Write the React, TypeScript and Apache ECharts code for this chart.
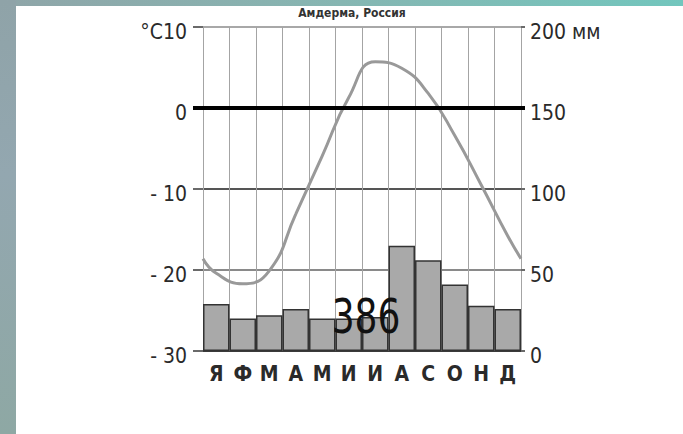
import React, { useEffect, useRef } from 'react';
import * as echarts from 'echarts';

// Month initials (Russian)
const months = ['Я', 'Ф', 'М', 'А', 'М', 'И', 'И', 'А', 'С', 'О', 'Н', 'Д'];
// Monthly precipitation, mm (right axis)
const precipitation = [29, 20, 22, 26, 20, 20, 21, 65, 56, 41, 28, 26];
// Temperature curve: positions along the month axis (0 = left edge, 12 = right edge)
const tempPositions = [0, 0.5, 1.5, 2.5, 3.5, 4.5, 5.5, 6.5, 7.5, 8.5, 9.5, 10.5, 11.5, 12];
// Temperature values, °C (left axis)
const temperature = [-18.6, -20.4, -21.7, -20.1, -13.1, -5.9, 1.3, 5.7, 4.9, 1.8, -3.4, -9.5, -15.8, -18.6];
// Axis ranges / ticks
const tempAxis = { min: -30, max: 10, step: 10 };
const precipAxis = { min: 0, max: 200, step: 50 };
const freezing = [0];
const annualTotal = '386';
const titleText = 'Амдерма, Россия';

const FONT = '"DejaVu Sans Condensed", "Liberation Sans", sans-serif';

const shifted = (t: string) => '{v|' + t + '}';

export default function App() {
  const ref = useRef<HTMLDivElement>(null);

  useEffect(() => {
    if (!ref.current) return;
    const chart = echarts.init(ref.current, null, { renderer: 'svg' });
    const labelRich = {
      v: {
        color: '#2a2a2a',
        fontSize: 21,
        fontFamily: FONT,
        padding: [10, 0, 0, 0],
      },
    };
    const option: any = {
      animation: false,
      backgroundColor: '#ffffff',
      grid: { left: 203, right: 162, top: 27, bottom: 83, containLabel: false },
      xAxis: [
        {
          type: 'category',
          data: months,
          boundaryGap: true,
          axisLine: { show: true, lineStyle: { color: '#3a3a3a', width: 2.5 } },
          axisTick: { show: false },
          axisLabel: {
            color: '#2a2a2a',
            fontSize: 21,
            fontWeight: 'bold',
            fontFamily: FONT,
            margin: 12,
          },
          splitLine: { show: true, lineStyle: { color: '#a4a4a4', width: 1 } },
        },
        { type: 'value', min: 0, max: 12, show: false },
      ],
      yAxis: [
        {
          type: 'value',
          position: 'left',
          min: tempAxis.min,
          max: tempAxis.max,
          interval: tempAxis.step,
          axisLine: { show: false },
          axisTick: { show: true, length: 10, lineStyle: { color: '#6a6a6a', width: 2 } },
          axisLabel: {
            margin: 16,
            rich: labelRich,
            formatter: (v: number) =>
              shifted(v === tempAxis.max ? '°C' + v : v < 0 ? '- ' + Math.abs(v) : String(v)),
          },
          splitLine: {
            show: true,
            lineStyle: { color: ['#3a3a3a', '#8a8a8a', '#555555', '#000000', '#a8a8a8'], width: 2 },
          },
        },
        {
          type: 'value',
          position: 'right',
          min: precipAxis.min,
          max: precipAxis.max,
          interval: precipAxis.step,
          axisLine: { show: false },
          axisTick: { show: true, length: 4, lineStyle: { color: '#6a6a6a', width: 2 } },
          axisLabel: {
            margin: 9,
            rich: labelRich,
            formatter: (v: number) => shifted(v === precipAxis.max ? v + ' мм' : String(v)),
          },
          splitLine: { show: false },
        },
      ],
      series: [
        {
          type: 'bar',
          xAxisIndex: 0,
          yAxisIndex: 1,
          data: precipitation,
          barCategoryGap: '0%',
          itemStyle: { color: '#a9a9a9', borderColor: '#333333', borderWidth: 1.5 },
          z: 2,
        },
        {
          type: 'line',
          xAxisIndex: 1,
          yAxisIndex: 0,
          data: tempPositions.map((x, i) => [x, temperature[i]]),
          smooth: 0.5,
          showSymbol: false,
          lineStyle: { color: '#999999', width: 3 },
          z: 5,
        },
        {
          type: 'custom',
          xAxisIndex: 1,
          yAxisIndex: 0,
          data: freezing.map((v) => [0, v]),
          silent: true,
          z: 10,
          renderItem: (params: any, api: any) => {
            const cs = params.coordSys;
            const y = api.coord([0, api.value(1)])[1];
            return {
              type: 'line',
              shape: { x1: cs.x - 10, y1: y, x2: cs.x + cs.width + 4, y2: y },
              style: { stroke: '#000000', lineWidth: 4 },
            };
          },
        },
      ],
      graphic: [
        {
          type: 'text',
          z: 50,
          x: 366,
          y: 316,
          scaleY: 1.2,
          style: {
            text: annualTotal,
            x: 0,
            y: 0,
            align: 'center',
            verticalAlign: 'middle',
            fontSize: 40,
            fontFamily: FONT,
            fill: '#111111',
          },
        },
        {
          type: 'text',
          z: 50,
          style: {
            text: titleText,
            x: 352,
            y: 7,
            align: 'center',
            verticalAlign: 'top',
            fontSize: 12,
            fontWeight: 'bold',
            fontFamily: FONT,
            fill: '#333333',
          },
        },
        {
          type: 'rect',
          z: 100,
          shape: { x: 0, y: 0, width: 683, height: 6 },
          style: {
            fill: new echarts.graphic.LinearGradient(0, 0, 1, 0, [
              { offset: 0, color: '#8fa5a8' },
              { offset: 0.5, color: '#86b6b2' },
              { offset: 1, color: '#72c6bd' },
            ]),
          },
        },
        {
          type: 'rect',
          z: 100,
          shape: { x: 0, y: 0, width: 16, height: 434 },
          style: {
            fill: new echarts.graphic.LinearGradient(0, 0, 0, 1, [
              { offset: 0, color: '#8fa3a8' },
              { offset: 0.4, color: '#93a7b0' },
              { offset: 1, color: '#8ea8a4' },
            ]),
          },
        },
      ],
    };
    chart.setOption(option);
    return () => chart.dispose();
  }, []);

  return (
    <div
      ref={ref}
      style={{ position: 'fixed', left: 0, top: 0, width: 683, height: 434 }}
    />
  );
}
